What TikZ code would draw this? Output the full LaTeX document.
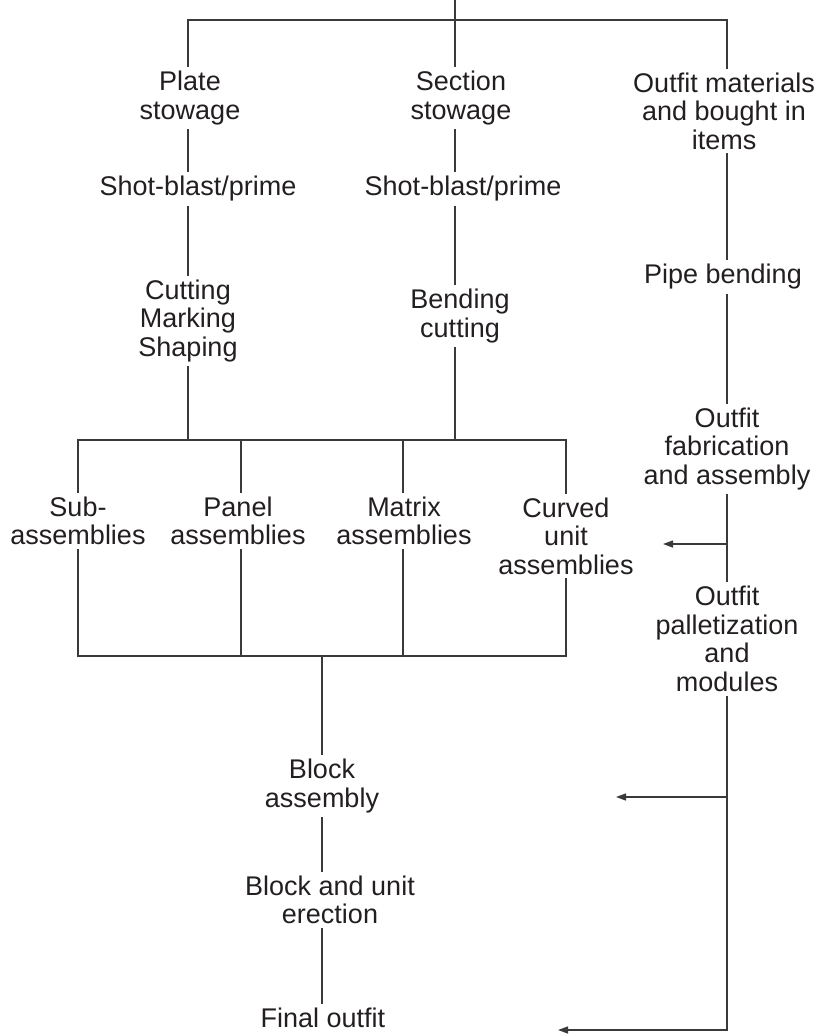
\documentclass[tikz,border=0pt]{standalone}
\usepackage{fontspec}
\setmainfont{Liberation Sans}
\usetikzlibrary{arrows.meta}
\definecolor{txt}{HTML}{231F20}
\definecolor{ln}{HTML}{3A3A3A}
\begin{document}
\begin{tikzpicture}[x=1pt,y=-1pt,
  lbl/.style={align=center, inner sep=0pt, outer sep=4pt, font=\fontsize{27}{28.5}\selectfont, text=txt},
  conn/.style={draw=ln, line width=1.3pt},
  arr/.style={conn, -{Triangle[length=10pt,width=7pt]}}]
\useasboundingbox (0,0) rectangle (823,1035);
% column coordinates
\coordinate (top) at (455,0);
\coordinate (tb) at (455,20);
\coordinate (cL) at (188,20);
\coordinate (cM) at (455,20);
\coordinate (cR) at (727,20);
\coordinate (asmT) at (188,440);
\coordinate (cs) at (78,440);
\coordinate (cp) at (241,440);
\coordinate (cm) at (403,440);
\coordinate (cc) at (566,440);
\coordinate (cs2) at (78,656);
\coordinate (cp2) at (241,656);
\coordinate (cm2) at (403,656);
\coordinate (cc2) at (566,656);
\coordinate (cB) at (322,656);
\coordinate (a1) at (727,544);
\coordinate (a1t) at (663,544);
\coordinate (a2) at (727,797);
\coordinate (a2t) at (616,797);
\coordinate (a3t) at (558,1030);
% nodes
\node[lbl] (plate) at (190,98) {Plate\\stowage};
\node[lbl] (section) at (461,98) {Section\\stowage};
\node[lbl] (outfit) at (724,111) {Outfit materials\\and bought in\\items};
\node[lbl] (shotL) at (198,189) {Shot-blast/prime};
\node[lbl] (shotM) at (463,189) {Shot-blast/prime};
\node[lbl] (cut) at (188,321) {Cutting\\Marking\\Shaping};
\node[lbl] (bend) at (460,316) {Bending\\cutting};
\node[lbl] (pipe) at (723,277) {Pipe bending};
\node[lbl] (fab) at (727,449) {Outfit\\fabrication\\and assembly};
\node[lbl] (sub) at (78,521) {Sub-\\assemblies};
\node[lbl] (panel) at (238,521) {Panel\\assemblies};
\node[lbl] (matrix) at (404,521) {Matrix\\assemblies};
\node[lbl] (curved) at (566,536) {Curved\\unit\\assemblies};
\node[lbl] (pallet) at (727,639) {Outfit\\palletization\\and\\modules};
\node[lbl] (block) at (322,786) {Block\\assembly};
\node[lbl] (erect) at (330,900) {Block and unit\\erection};
\node[lbl] (final) at (323,1018) {Final outfit};
% top distribution
\draw[conn] (cL |- plate.north) |- (tb) -- (cR) -- (cR |- outfit.north);
\draw[conn] (top) -- (cM |- section.north);
% plate column
\draw[conn] (cL |- plate.south) -- (cL |- shotL.north);
\draw[conn] (cL |- shotL.south) -- (cL |- cut.north);
\draw[conn] (cL |- cut.south) -- (asmT);
% section column
\draw[conn] (cM |- section.south) -- (cM |- shotM.north);
\draw[conn] (cM |- shotM.south) -- (cM |- bend.north);
\draw[conn] (cM |- bend.south) -- (cM |- asmT);
% assemblies
\draw[conn] (cs |- sub.north) |- (cc) -- (cc |- curved.north);
\draw[conn] (cp) -- (cp |- panel.north);
\draw[conn] (cm) -- (cm |- matrix.north);
\draw[conn] (cs |- sub.south) |- (cc2) -- (cc2 |- curved.south);
\draw[conn] (cp |- panel.south) -- (cp2);
\draw[conn] (cm |- matrix.south) -- (cm2);
% block column
\draw[conn] (cB) -- (cB |- block.north);
\draw[conn] (cB |- block.south) -- (cB |- erect.north);
\draw[conn] (cB |- erect.south) -- (cB |- final.north);
% outfit column
\draw[conn] (cR |- outfit.south) -- (cR |- pipe.north);
\draw[conn] (cR |- pipe.south) -- (cR |- fab.north);
\draw[conn] (cR |- fab.south) -- (cR |- pallet.north);
\draw[arr] (a1) -- (a1t);
\draw[arr] (cR |- pallet.south) |- (a3t);
\draw[arr] (a2) -- (a2t);
\end{tikzpicture}
\end{document}
